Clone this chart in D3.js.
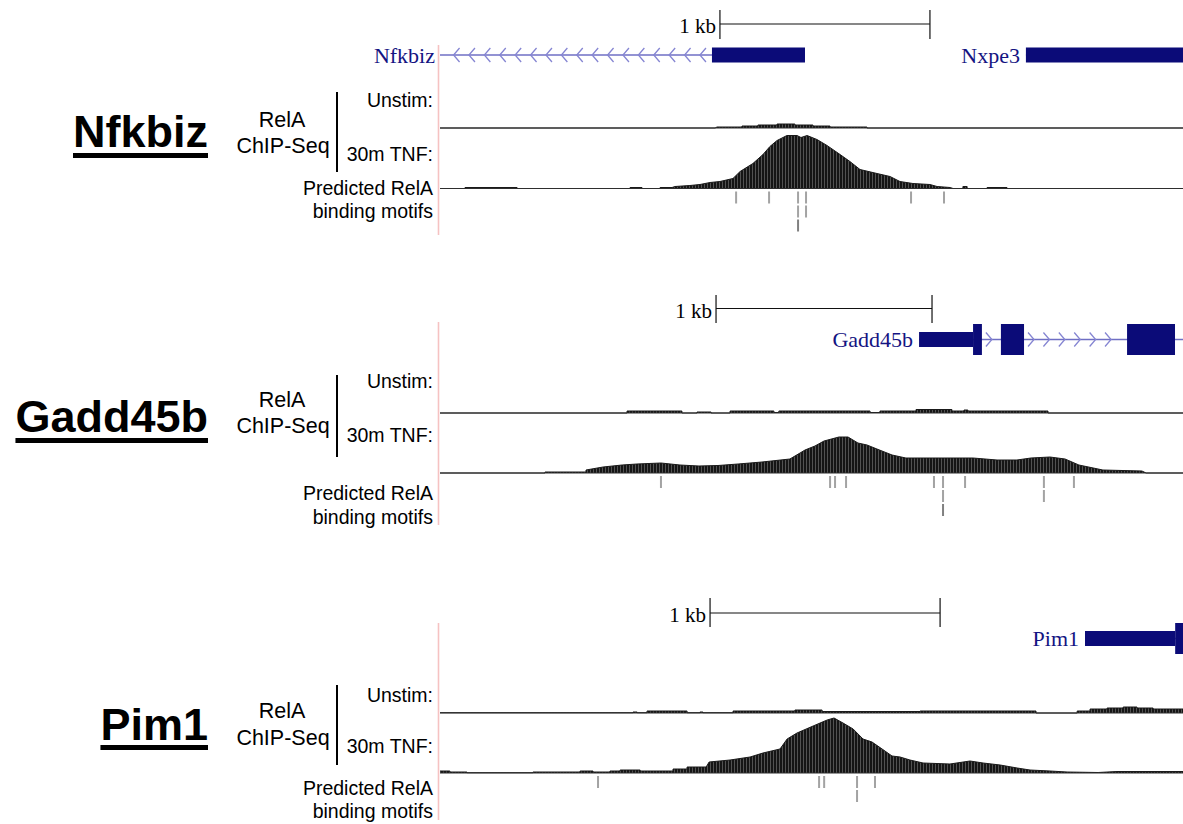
<!DOCTYPE html>
<html><head><meta charset="utf-8">
<script src="https://cdn.jsdelivr.net/npm/d3@7"></script>
<style>html,body{margin:0;padding:0;background:#fff;} svg{display:block;background:#fff}</style>
</head><body>
<svg id="chart" width="1183" height="824"></svg>
<script>
// ---------------- DATA ----------------
const geneTitles = ["Nfkbiz", "Gadd45b", "Pim1"];
const trackLabels = ["Unstim:", "30m TNF:"];
const assayLabel = ["RelA", "ChIP-Seq"];
const motifLabel = ["Predicted RelA", "binding motifs"];
const scaleBarLabel = "1 kb";
const windowLengthsBp = [3538, 3440, 3230];
const scaleBarStartBp = [1333, 1278, 1174];
const scaleBarLengthBp = 1000;

// gene models (bp within window)
const nfkbizGene = {name: "Nfkbiz", strand: "-", span: [0, 1738], utr: [[1295, 1738]], cds: [], margin: true};
const nxpe3Gene = {name: "Nxpe3", strand: "+", span: [2790, 3538], utr: [[2790, 3538]], cds: []};
const gadd45bGene = {name: "Gadd45b", strand: "+", span: [2218, 3440], utr: [[2218, 2468]], cds: [[2468, 2509], [2597, 2704], [3181, 3403]]};
const pim1Gene = {name: "Pim1", strand: "+", span: [2804, 3230], utr: [[2804, 3196]], cds: [[3196, 3240]]};

// ChIP-seq signal [bp, read density]
const nfkbizUnstim = [[0,0],[1310,0],[1319,1],[1438,1],[1438,2],[1514,2],[1514,3],[1605,3],[1605,4],[1690,4],[1690,3],[1776,3],[1776,2],[1857,2],[1857,1],[2033,1],[2033,0],[3538,0]];
const nfkbizTnf = [[0,0],[119,0],[119,1],[367,1],[367,0],[905,0],[905,1],[962,1],[962,0],[1048,0],[1048,1],[1105,1],[1119,2],[1190,3],[1238,4],[1286,6],[1333,7],[1395,10],[1429,17],[1490,25],[1538,34],[1571,42],[1605,48],[1652,53],[1700,53],[1719,51],[1748,53],[1795,49],[1843,43],[1905,34],[1952,27],[2000,19],[2081,15],[2143,12],[2190,7],[2252,5],[2333,4],[2367,2],[2429,1],[2443,0],[2490,0],[2490,2],[2510,2],[2510,0],[2605,0],[2605,1],[2700,1],[2700,0],[3538,0]];
const gadd45bUnstim = [[0,0],[866,0],[866,2],[1120,2],[1120,0],[1190,0],[1190,1],[1255,1],[1255,0],[1343,0],[1343,2],[1546,2],[1546,0.5],[1569,0.5],[1569,2],[1991,2],[1991,0.5],[2037,0.5],[2037,2],[2204,2],[2204,3.5],[2370,3.5],[2370,2],[2426,2],[2426,3],[2444,3],[2444,2],[2815,2],[2815,0],[3440,0]];
const gadd45bTnf = [[0,0],[486,0],[486,1],[676,1],[676,3],[755,6],[843,8],[912,9],[1023,10],[1111,8],[1199,7],[1287,7.5],[1380,9],[1491,11],[1620,14],[1667,20],[1690,23],[1736,27],[1778,32],[1847,36],[1889,36],[1935,30],[1977,28],[2023,24],[2093,18],[2157,15],[2292,15],[2468,15],[2579,13],[2671,13],[2736,15],[2824,16],[2894,14],[2958,8],[3069,3],[3250,2],[3269,0],[3440,0]];
const pim1Unstim = [[0,0.3],[839,0.3],[839,1],[857,1],[857,0.3],[900,0.3],[900,2],[1074,2],[1074,0.3],[1130,0.3],[1130,1],[1143,1],[1143,0.3],[1274,0.3],[1274,2],[1543,2],[1543,3],[1661,3],[1661,1.5],[2087,1.5],[2087,2],[2591,2],[2591,0],[2770,0],[2770,2],[2826,2],[2826,4],[2900,4],[2900,5],[2970,5],[2970,6],[3030,6],[3030,5],[3100,5],[3100,4],[3230,4]];
const pim1Tnf = [[0,2],[43,2],[43,1],[117,1],[117,0.3],[404,0.3],[404,1],[609,1],[609,2],[665,2],[665,1],[739,1],[739,2],[783,2],[783,3],[870,3],[870,2],[1013,2],[1013,4],[1074,4],[1074,6],[1157,6],[1170,11],[1261,13],[1348,16],[1404,20],[1478,24],[1509,34],[1552,40],[1622,47],[1683,53],[1713,55],[1752,50],[1796,44],[1839,34],[1878,31],[1922,24],[1965,17],[2000,16],[2043,13],[2100,10],[2217,9],[2304,12],[2361,10],[2435,8],[2509,5],[2565,3],[2652,2],[2726,1],[2861,0.5],[2943,1.5],[3230,1.5]];

// predicted motifs [bp, row]
const nfkbizMotifs = [[1410,0],[1567,0],[1705,0],[1743,0],[2243,0],[2400,0],[1705,1],[1743,1],[1705,2]];
const gadd45bMotifs = [[1023,0],[1806,0],[1829,0],[1880,0],[2287,0],[2329,0],[2431,0],[2796,0],[2935,0],[2329,1],[2796,1],[2329,2]];
const pim1Motifs = [[687,0],[1648,0],[1670,0],[1813,0],[1891,0],[1813,1]];

const panelGenes = [[nfkbizGene, nxpe3Gene], [gadd45bGene], [pim1Gene]];
const panelUnstim = [nfkbizUnstim, gadd45bUnstim, pim1Unstim];
const panelTnf = [nfkbizTnf, gadd45bTnf, pim1Tnf];
const panelMotifs = [nfkbizMotifs, gadd45bMotifs, pim1Motifs];

// ---------------- LAYOUT ----------------
const trackLeft = 440, trackRight = 1183;
const layout = [
  {scaleY:24, tickTop:10, tickBot:39, geneY:55, unstimBase:128, tnfBase:188.5, pinkTop:45, pinkBot:235, lblUnstim:107, lblTnf:161, lblPred:195, lblBind:218, lblRelA:127, lblChip:153, vTop:92, vBot:172, titleBase:147, ulY:155.5},
  {scaleY:308.5, tickTop:295, tickBot:323, geneY:339.5, unstimBase:413, tnfBase:473, pinkTop:322, pinkBot:525, lblUnstim:388, lblTnf:442, lblPred:500, lblBind:524, lblRelA:407, lblChip:433, vTop:375, vBot:457, titleBase:432, ulY:440.5},
  {scaleY:613, tickTop:598, tickBot:627, geneY:638.5, unstimBase:713, tnfBase:773, pinkTop:623, pinkBot:820, lblUnstim:702, lblTnf:753, lblPred:795, lblBind:818, lblRelA:718, lblChip:745, vTop:685, vBot:765, titleBase:740, ulY:747.5}
];
const sans = "'Liberation Sans', Arial, Helvetica, sans-serif";
const serif = "'Liberation Serif', 'Times New Roman', serif";
const navy = "#0b0b78", navyText = "#141482", intronCol = "#6f6fc4";

const svg = d3.select("#chart");
svg.append("rect").attr("width",1183).attr("height",824).attr("fill","#fff");
const defs = svg.append("defs");
const pat = defs.append("pattern").attr("id","wig").attr("patternUnits","userSpaceOnUse").attr("width",3).attr("height",8);
pat.append("rect").attr("width",3).attr("height",8).attr("fill","#151515");
pat.append("rect").attr("x",2).attr("width",0.7).attr("height",8).attr("fill","#6c6c6c");
defs.append("clipPath").attr("id","win").append("rect").attr("x",trackLeft).attr("y",0).attr("width",trackRight-trackLeft).attr("height",824);

const yScale = d3.scaleLinear().domain([0, 60]);

layout.forEach((L, i) => {
  const g = svg.append("g");
  const x = d3.scaleLinear().domain([0, windowLengthsBp[i]]).range([trackLeft, trackRight]);

  // title
  const t = g.append("text").attr("x",208).attr("y",L.titleBase).attr("text-anchor","end")
    .attr("font-family",sans).attr("font-weight","bold").attr("font-size",45).attr("fill","#000").text(geneTitles[i]);
  const tw = t.node().getComputedTextLength();
  g.append("rect").attr("x",208-tw).attr("y",L.ulY-2.5).attr("width",tw).attr("height",5).attr("fill","#000");

  // assay label
  g.append("text").attr("x",282).attr("y",L.lblRelA).attr("text-anchor","middle").attr("font-family",sans).attr("font-size",21.5).text(assayLabel[0]);
  g.append("text").attr("x",283).attr("y",L.lblChip).attr("text-anchor","middle").attr("font-family",sans).attr("font-size",21.5).text(assayLabel[1]);
  g.append("line").attr("x1",337).attr("x2",337).attr("y1",L.vTop).attr("y2",L.vBot).attr("stroke","#000").attr("stroke-width",2);

  // track labels
  const lbl = (txt, y) => g.append("text").attr("x",433).attr("y",y).attr("text-anchor","end").attr("font-family",sans).attr("font-size",19.5).attr("fill","#000").text(txt);
  lbl(trackLabels[0], L.lblUnstim);
  lbl(trackLabels[1], L.lblTnf);
  lbl(motifLabel[0], L.lblPred);
  lbl(motifLabel[1], L.lblBind);

  // pink separator
  g.append("line").attr("x1",438.5).attr("x2",438.5).attr("y1",L.pinkTop).attr("y2",L.pinkBot).attr("stroke","#f6c2c2").attr("stroke-width",1.6);

  // scale bar
  const s0 = x(scaleBarStartBp[i]), s1 = x(scaleBarStartBp[i] + scaleBarLengthBp);
  g.append("line").attr("x1",s0).attr("x2",s1).attr("y1",L.scaleY).attr("y2",L.scaleY).attr("stroke","#111").attr("stroke-width",1.2);
  [s0, s1].forEach(sx => g.append("line").attr("x1",sx).attr("x2",sx).attr("y1",L.tickTop).attr("y2",L.tickBot).attr("stroke","#111").attr("stroke-width",1.2));
  g.append("text").attr("x",s0-4).attr("y",L.scaleY+9).attr("text-anchor","end").attr("font-family",serif).attr("font-size",21).attr("fill","#000").text(scaleBarLabel);

  // genes
  const gg = g.append("g").attr("clip-path","url(#win)");
  panelGenes[i].forEach(gene => {
    const gy = L.geneY;
    const gx0 = x(gene.span[0]), gx1 = x(gene.span[1]);
    gg.append("line").attr("x1",gx0).attr("x2",gx1).attr("y1",gy).attr("y2",gy).attr("stroke",intronCol).attr("stroke-width",1.5);
    const blocks = gene.utr.concat(gene.cds).sort((a,b)=>a[0]-b[0]);
    const gaps = [];
    let prev = gene.span[0];
    blocks.forEach(b => { if (b[0] > prev) gaps.push([prev, b[0]]); prev = Math.max(prev, b[1]); });
    gaps.forEach(gp => {
      const a = Math.max(x(gp[0]), trackLeft), b = x(gp[1]);
      if (b - a < 12) return;
      const pts = [];
      if (gene.strand === "-") { for (let cx = b - 12; cx >= a + 1; cx -= 15.4) pts.push(cx); }
      else { for (let cx = a + 10; cx <= b - 2; cx += 15.4) pts.push(cx); }
      pts.forEach(cx => {
        const d = gene.strand === "-" ? `M${cx+6},${gy-7}L${cx},${gy}L${cx+6},${gy+7}` : `M${cx-6},${gy-7}L${cx},${gy}L${cx-6},${gy+7}`;
        gg.append("path").attr("d",d).attr("fill","none").attr("stroke","#8585d2").attr("stroke-width",1.3);
      });
    });
    gene.utr.forEach(b => gg.append("rect").attr("x",x(b[0])).attr("y",gy-7.5).attr("width",x(b[1])-x(b[0])).attr("height",15).attr("fill",navy));
    gene.cds.forEach(b => gg.append("rect").attr("x",x(b[0])).attr("y",gy-15.5).attr("width",x(b[1])-x(b[0])).attr("height",31).attr("fill",navy));
    const lx = gene.margin ? 435 : x(gene.span[0]) - 6;
    g.append("text").attr("x",lx).attr("y",gy+7.5).attr("text-anchor","end").attr("font-family",serif).attr("font-size",22).attr("fill",navyText).text(gene.name);
  });

  // signal tracks
  const drawTrack = (data, base) => {
    const y = yScale.copy().range([base, base - 60]);
    const area = d3.area().x(d => x(d[0])).y0(base).y1(d => y(d[1])).curve(d3.curveLinear);
    const line = d3.line().x(d => x(d[0])).y(d => y(d[1])).curve(d3.curveLinear);
    const tg = g.append("g").attr("clip-path","url(#win)");
    tg.append("path").datum(data).attr("d",area).attr("fill","url(#wig)");
    tg.append("path").datum(data).attr("d",line).attr("fill","none").attr("stroke","#1a1a1a").attr("stroke-width",1);
    tg.append("line").attr("x1",trackLeft).attr("x2",trackRight).attr("y1",base).attr("y2",base).attr("stroke","#2e2e2e").attr("stroke-width",1.2);
  };
  drawTrack(panelUnstim[i], L.unstimBase);
  drawTrack(panelTnf[i], L.tnfBase);

  // motifs
  g.append("g").selectAll("rect").data(panelMotifs[i]).join("rect")
    .attr("x", d => x(d[0]) - 1).attr("y", d => L.tnfBase + 3 + 14 * d[1]).attr("width", 2).attr("height", 12)
    .attr("fill", d => d[1] === 2 ? "#808080" : "#a3a3a3");
});
</script>
</body></html>
